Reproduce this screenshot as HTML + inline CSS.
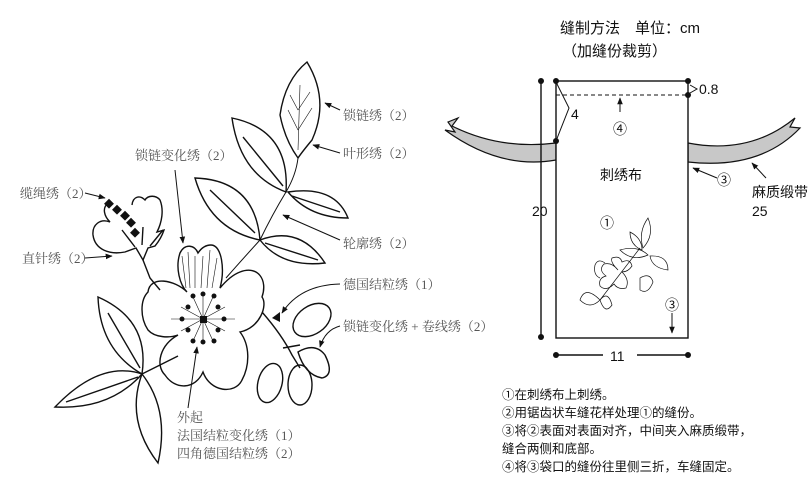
<!DOCTYPE html>
<html><head><meta charset="utf-8"><style>
html,body{margin:0;padding:0;background:#fff;}
svg{display:block;}
.t{font-family:"Liberation Serif","Noto Serif CJK SC",serif;font-size:13px;fill:#555;}
.s{font-family:"Liberation Sans","Noto Sans CJK SC",sans-serif;fill:#111;}
</style></head><body>
<svg width="809" height="504" viewBox="0 0 809 504" xmlns="http://www.w3.org/2000/svg">
<defs>
<marker id="a" viewBox="0 0 10 10" refX="9" refY="5" markerWidth="7" markerHeight="7" orient="auto"><path d="M0,1 L10,5 L0,9 z" fill="#111"/></marker>
</defs>
<g fill="none" stroke="#111" stroke-width="1.4">
<!-- stem -->
<path d="M298,158 Q296,175 286,192 Q272,215 260,240 Q240,262 226,278" stroke-width="1"/>
<path d="M142,374 L178,356"/>
<path d="M262,312 Q282,335 292,355 L300,368"/>
<path d="M283,348 L300,345"/>
<path d="M143,260 L150,278 L160,290"/>
<!-- leaves -->
<path d="M232,118 Q290,130 286,192 Q240,175 232,118 Z"/><path d="M243,137 L283,186"/>
<path d="M195,178 Q255,180 260,240 Q210,230 195,178 Z"/><path d="M210,190 L255,233"/>
<path d="M288,192 Q335,185 348,218 Q310,218 288,192 Z"/><path d="M292,196 L340,212"/>
<path d="M260,240 Q300,225 325,263 Q282,268 260,240 Z"/><path d="M265,243 L318,260"/>
<path d="M307,62 Q330,100 312,140 Q302,152 298,158 Q285,140 280,115 Q285,80 307,62 Z"/>
<g stroke-width="0.6"><path d="M298,150 L300,85 M298,130 L288,110 M298,130 L312,108 M298,110 L290,95 M298,110 L310,92"/></g>
<path d="M98,297 Q150,320 142,374 Q100,350 98,297 Z"/><path d="M108,313 L140,368"/>
<path d="M55,407 Q100,360 142,374 Q110,410 55,407 Z"/><path d="M66,402 L138,377"/>
<path d="M142,374 Q170,410 158,463 Q125,420 142,374 Z"/>
<!-- small flower -->
<path d="M108,203 C102,208 104,216 110,222 C100,218 92,225 93,235 C95,250 110,255 125,252 L136,248 L143,260 L148,248 L155,246 C160,240 163,233 164,230 L157,232 C162,222 164,210 160,200 C156,195 148,195 145,200 C140,195 133,196 132,205"/>
<path d="M122,230 L135,247 M143,227 L142,245 M163,230 L150,246"/>
<!-- main flower -->
<path d="M187,292 C175,280 150,275 148,292 C140,300 140,318 148,330 C155,338 170,338 178,335 C160,345 155,365 165,375 C175,390 195,390 203,372 C210,392 235,395 242,380 C250,365 250,345 240,332 C260,328 268,305 262,297 C268,280 258,265 240,272 C232,275 225,282 220,288 C225,270 222,245 211,245 C204,245 200,250 198,253 C195,245 185,243 180,253 C175,268 180,285 187,292 Z"/>
<g stroke-width="0.6"><path d="M186,288 L182,256 M190,288 L188,252 M195,288 L195,256 M201,288 L203,256 M207,288 L210,250 M212,288 L217,258"/>
<path d="M203,319 L171,319 M203,319 L235,319 M203,319 L193,297 M203,319 L213,297 M203,319 L181,307 M203,319 L225,307 M203,319 L181,331 M203,319 L225,331 M203,319 L193,341 M203,319 L213,341 M203,319 L203,295 M203,319 L203,343"/></g>
<!-- buds -->
<ellipse cx="312" cy="320" rx="21" ry="14" transform="rotate(-35 312 320)"/>
<ellipse cx="270" cy="383" rx="12" ry="20" transform="rotate(15 270 383)"/>
<ellipse cx="300" cy="385" rx="12" ry="20"/>
<path d="M298,352 Q315,342 325,355 Q335,375 322,378 Q305,375 298,352 Z"/>
<!-- label arrows -->
<path d="M340,110 L325,103" marker-end="url(#a)" stroke-width="1"/>
<path d="M340,153 L313,145" marker-end="url(#a)" stroke-width="1"/>
<path d="M175,170 L183,243" marker-end="url(#a)" stroke-width="1"/>
<path d="M85,193 L105,198" marker-end="url(#a)" stroke-width="1"/>
<path d="M85,258 L112,256" marker-end="url(#a)" stroke-width="1"/>
<path d="M340,240 L283,215" marker-end="url(#a)" stroke-width="1"/>
<path d="M340,284 Q300,285 282,313" marker-end="url(#a)" stroke-width="1"/>
<path d="M340,326 Q325,330 320,347" marker-end="url(#a)" stroke-width="1"/>
<path d="M188,408 L197,347" marker-end="url(#a)" stroke-width="1"/>
</g>
<g fill="#111">
<rect x="106" y="200" width="7" height="7" transform="rotate(45 109 203)"/>
<rect x="114" y="206" width="7" height="7" transform="rotate(45 117 209)"/>
<rect x="122" y="212" width="7" height="7" transform="rotate(45 125 215)"/>
<rect x="128" y="219" width="7" height="7" transform="rotate(45 131 222)"/>
<rect x="132" y="229" width="7" height="7" transform="rotate(45 135 232)"/>
<rect x="200" y="316" width="7" height="7"/>
<circle cx="193" cy="296" r="2.5"/><circle cx="203" cy="294" r="2.5"/><circle cx="214" cy="296" r="2.5"/>
<circle cx="188" cy="307" r="2.5"/><circle cx="218" cy="307" r="2.5"/>
<circle cx="182" cy="319" r="2.5"/><circle cx="224" cy="319" r="2.5"/>
<circle cx="188" cy="330" r="2.5"/><circle cx="218" cy="330" r="2.5"/>
<circle cx="193" cy="341" r="2.5"/><circle cx="203" cy="342" r="2.5"/><circle cx="214" cy="341" r="2.5"/>
<path d="M272,318 L280,312 L280,322 Z"/>
</g>
<g class="t">
<text x="343" y="120">锁链绣（2）</text>
<text x="343" y="158">叶形绣（2）</text>
<text x="135" y="160">锁链变化绣（2）</text>
<text x="20" y="198">缆绳绣（2）</text>
<text x="22" y="263">直针绣（2）</text>
<text x="343" y="248">轮廓绣（2）</text>
<text x="343" y="289">德国结粒绣（1）</text>
<text x="343" y="331">锁链变化绣 + 卷线绣（2）</text>
<text x="177" y="422">外起</text>
<text x="177" y="440">法国结粒变化绣（1）</text>
<text x="177" y="458">四角德国结粒绣（2）</text>
</g>
<!-- right diagram -->
<text class="s" x="560" y="33" font-size="15">缝制方法　单位：cm</text>
<text class="s" x="562" y="56" font-size="15">（加缝份裁剪）</text>
<path d="M448,122 L458,118 L452,126 Q500,150 556,143 L556,160 Q500,170 445,130 L455,132 Z" fill="#c8c8c8" stroke="#111" stroke-width="1.2"/>
<path d="M688,143 Q750,155 795,118 L790,127 L800,128 Q760,170 688,162 Z" fill="#c8c8c8" stroke="#111" stroke-width="1.2"/>
<g fill="none" stroke="#111" stroke-width="1.4">
<rect x="556" y="81" width="132" height="257" fill="#fff"/>
<path d="M556,95 L688,95" stroke-dasharray="4,3" stroke-width="1"/>
<path d="M541,81 L541,337"/>
<path d="M556,355 L603,355 M637,355 L688,355"/>
<path d="M556,82 L569,108 L556,141" stroke-width="1"/>
<path d="M690,85 L697,89 L690,93" stroke-width="1"/>
<path d="M620,112 L620,98" marker-end="url(#a)" stroke-width="1"/>
<path d="M717,178 L693,168" marker-end="url(#a)" stroke-width="1"/>
<path d="M766,178 L752,163" marker-end="url(#a)" stroke-width="1"/>
<path d="M672,313 L672,333" marker-end="url(#a)" stroke-width="1"/>
<g stroke-width="0.7">
<path d="M648,218 Q655,235 643,248 Q638,232 648,218 Z"/>
<path d="M630,232 Q642,238 642,250 Q630,245 630,232 Z"/>
<path d="M620,250 Q638,245 648,255 Q632,262 620,250 Z"/>
<path d="M650,256 Q668,255 668,270 Q652,268 650,256 Z"/>
<path d="M640,248 L600,300"/>
<path d="M618,270 Q610,262 612,258 Q620,255 622,262 Q630,258 632,266 Q628,272 622,272 Q630,280 626,288 Q618,290 614,284 Q606,292 600,286 Q598,278 606,276 Q598,270 604,264 Q612,262 618,270 Z"/>
<path d="M605,263 Q598,258 595,265 Q593,275 600,278"/>
<path d="M640,278 Q650,272 653,282 Q648,295 640,290 Z"/>
<path d="M600,300 Q585,285 580,300 Q590,310 600,300 Z"/>
<path d="M600,300 Q608,290 612,305 Q605,315 600,300 Z"/>
</g>
</g>
<g fill="#111">
<circle cx="541" cy="81" r="3"/><circle cx="556" cy="81" r="3"/><circle cx="688" cy="81" r="3"/><circle cx="688" cy="95" r="3"/><circle cx="556" cy="141" r="3"/><circle cx="541" cy="337" r="3"/><circle cx="556" cy="355" r="3"/><circle cx="688" cy="355" r="3"/>
</g>
<g class="s" font-size="14">
<text x="699" y="94">0.8</text>
<text x="571" y="119">4</text>
<text x="613" y="134">④</text>
<text x="600" y="180">刺绣布</text>
<text x="717" y="185">③</text>
<text x="752" y="197">麻质缎带</text>
<text x="752" y="216">25</text>
<text x="532" y="216">20</text>
<text x="600" y="228">①</text>
<text x="665" y="310">③</text>
<text x="610" y="361">11</text>
</g>
<g class="s" font-size="12.5">
<text x="502" y="399">①在刺绣布上刺绣。</text>
<text x="502" y="417">②用锯齿状车缝花样处理①的缝份。</text>
<text x="502" y="435">③将②表面对表面对齐，中间夹入麻质缎带，</text>
<text x="502" y="453">缝合两侧和底部。</text>
<text x="502" y="471">④将③袋口的缝份往里侧三折，车缝固定。</text>
</g>
</svg>
</body></html>
